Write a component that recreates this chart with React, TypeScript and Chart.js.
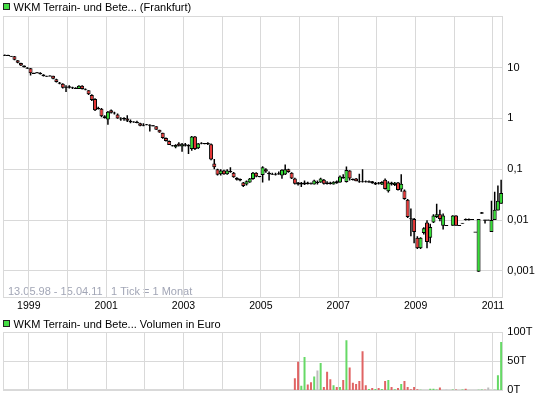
import React, { useEffect, useRef } from 'react';
import { Chart, registerables } from 'chart.js';

Chart.register(...registerables);

// Monthly candles, index 0 = May 1998 ... index 155 = April 2011
const OPEN: (number | null)[] = [
  17.5, 17.5, 17.5, 16.5, 16.8, 14, 12.3, 11,
  9.8, 9.7, 7.7, 8, 7.9, 7.3, 6.8, 6.8, 6.9, 5.9, 5.1, 4.8,
  4.0, 4.3, 4.0, 3.9, 3.8, 4.4, 3.8, 3.6, 2.9, 2.4, 1.6, 1.55,
  1.1, 0.95, 1.45, 1.3, 1.2, 0.95, 0.97, 1.0, 0.88, 0.85, 0.85, 0.8,
  0.72, 0.75, 0.75, 0.72, 0.7, 0.6, 0.52, 0.41, 0.36, 0.29, 0.27, 0.32,
  0.28, 0.31, 0.3, 0.25, 0.44, 0.26, 0.33, 0.32, 0.33, 0.31, 0.13, 0.1,
  0.08, 0.095, 0.08, 0.09, 0.085, 0.068, 0.06, 0.055, 0.05, 0.055, 0.064, 0.085,
  0.072, 0.077, 0.1, 0.085, 0.08, 0.078, 0.082, 0.075, 0.079, 0.1, 0.085, 0.066,
  0.055, 0.05, 0.05, 0.055, 0.053, 0.05, 0.055, 0.055, 0.062, 0.055, 0.055, 0.05,
  0.058, 0.055, 0.07, 0.056, 0.094, 0.064, 0.066, 0.058, 0.058, 0.058, 0.055, 0.058,
  0.05, 0.055, 0.05, 0.062, 0.037, 0.055, 0.049, 0.055, 0.04, 0.038, 0.025, 0.0108,
  0.0105, 0.0045, 0.0028, 0.0056, 0.009, 0.0045, 0.009, 0.0115, 0.013, 0.0077, 0.0078, null,
  0.0077, 0.0123, 0.0078, 0.0086, 0.0105, 0.0105, 0.0103, 0.0058, 0.00096, 0.0134, 0.0101, 0.01,
  0.0058, 0.01, 0.0155, 0.021,
];
const HIGH: (number | null)[] = [
  17.8, 18, 17.8, 17, 16.9, 14, 12.4, 11,
  10.2, 9.8, 7.9, 8.2, 8.1, 7.4, 6.9, 7.1, 6.9, 6.0, 5.2, 4.9,
  4.5, 4.5, 4.2, 4.1, 4.5, 4.5, 3.9, 3.6, 3.0, 2.5, 1.7, 1.6,
  1.15, 1.4, 1.5, 1.35, 1.25, 1.05, 1.05, 1.15, 0.95, 0.88, 0.9, 0.82,
  0.8, 0.78, 0.77, 0.74, 0.7, 0.6, 0.52, 0.42, 0.37, 0.3, 0.31, 0.34,
  0.33, 0.33, 0.31, 0.45, 0.45, 0.33, 0.34, 0.33, 0.34, 0.32, 0.16, 0.102,
  0.1, 0.098, 0.1, 0.11, 0.088, 0.07, 0.066, 0.056, 0.06, 0.067, 0.088, 0.087,
  0.074, 0.115, 0.105, 0.09, 0.085, 0.085, 0.09, 0.1, 0.124, 0.102, 0.087, 0.068,
  0.056, 0.056, 0.06, 0.057, 0.055, 0.062, 0.06, 0.068, 0.064, 0.058, 0.057, 0.058,
  0.06, 0.075, 0.08, 0.113, 0.096, 0.066, 0.067, 0.082, 0.1, 0.06, 0.06, 0.059,
  0.056, 0.056, 0.058, 0.066, 0.058, 0.057, 0.056, 0.056, 0.08, 0.04, 0.026, 0.017,
  0.011, 0.0048, 0.0046, 0.0072, 0.0099, 0.0085, 0.013, 0.021, 0.016, 0.0135, 0.0079, null,
  0.0125, 0.0125, 0.0078, 0.0088, 0.0107, 0.0107, 0.0103, 0.0058, 0.0105, 0.0145, 0.0101, 0.0101,
  0.024, 0.036, 0.048, 0.062,
];
const LOW: (number | null)[] = [
  17.2, 17, 17, 16.3, 14, 12.2, 10.7, 10,
  9.5, 7, 7.5, 7.7, 7.3, 6.7, 6.6, 6.7, 5.9, 5.1, 4.7, 3.9,
  3.3, 3.9, 3.8, 3.8, 3.8, 3.7, 3.6, 2.9, 2.2, 1.4, 1.5, 1.05,
  1.0, 0.75, 1.25, 1.2, 0.98, 0.9, 0.9, 0.85, 0.8, 0.82, 0.8, 0.7,
  0.7, 0.73, 0.55, 0.7, 0.6, 0.52, 0.4, 0.35, 0.3, 0.28, 0.26, 0.28,
  0.22, 0.28, 0.2, 0.23, 0.24, 0.25, 0.31, 0.31, 0.3, 0.15, 0.1, 0.075,
  0.075, 0.078, 0.078, 0.085, 0.068, 0.06, 0.058, 0.045, 0.048, 0.054, 0.062, 0.07,
  0.07, 0.055, 0.085, 0.06, 0.078, 0.075, 0.078, 0.065, 0.077, 0.085, 0.064, 0.05,
  0.048, 0.045, 0.049, 0.05, 0.05, 0.05, 0.05, 0.054, 0.05, 0.05, 0.05, 0.05,
  0.052, 0.054, 0.065, 0.055, 0.06, 0.06, 0.058, 0.054, 0.055, 0.055, 0.054, 0.052,
  0.049, 0.05, 0.049, 0.04, 0.035, 0.048, 0.047, 0.038, 0.036, 0.025, 0.011, 0.0048,
  0.0035, 0.0027, 0.0027, 0.0052, 0.0028, 0.0035, 0.0088, 0.011, 0.0095, 0.0065, 0.0077, null,
  0.0077, 0.0077, 0.0078, 0.0086, 0.0098, 0.0098, 0.0103, 0.0058, 0.00096, 0.0134, 0.0086, 0.0099,
  0.0058, 0.01, 0.0155, 0.021,
];
const CLOSE: (number | null)[] = [
  17.5, 17.5, 17.2, 16.9, 14.2, 12.4, 11, 10.2,
  9.7, 7.7, 7.7, 7.8, 7.4, 6.8, 6.7, 6.9, 6.0, 5.2, 4.8, 4.0,
  4.2, 4.0, 4.0, 3.9, 4.4, 3.8, 3.7, 3.0, 2.3, 1.45, 1.55, 1.1,
  1.02, 1.35, 1.3, 1.25, 1.0, 1.0, 1.02, 0.9, 0.85, 0.85, 0.82, 0.72,
  0.75, 0.75, 0.72, 0.71, 0.6, 0.53, 0.41, 0.36, 0.3, 0.29, 0.3, 0.29,
  0.31, 0.29, 0.28, 0.44, 0.25, 0.32, 0.32, 0.32, 0.31, 0.155, 0.11, 0.078,
  0.095, 0.08, 0.095, 0.09, 0.07, 0.062, 0.064, 0.047, 0.058, 0.066, 0.085, 0.072,
  0.072, 0.11, 0.09, 0.08, 0.08, 0.082, 0.08, 0.098, 0.1, 0.088, 0.066, 0.052,
  0.05, 0.054, 0.055, 0.051, 0.051, 0.06, 0.055, 0.066, 0.052, 0.051, 0.051, 0.057,
  0.053, 0.072, 0.067, 0.097, 0.066, 0.062, 0.058, 0.056, 0.056, 0.056, 0.058, 0.053,
  0.054, 0.052, 0.056, 0.041, 0.055, 0.05, 0.054, 0.039, 0.052, 0.026, 0.0115, 0.0104,
  0.0058, 0.0028, 0.0045, 0.0069, 0.0037, 0.0073, 0.0123, 0.013, 0.0105, 0.0123, 0.0078, null,
  0.0123, 0.0077, 0.0078, 0.0087, 0.0099, 0.0099, 0.0103, 0.0058, 0.0105, 0.0142, 0.0099, 0.01,
  0.01, 0.016, 0.024, 0.034,
];

// Monthly volume in euros, starting at month index 91 (Dec 2005)
const VOLUME_START = 91;
const VOLUME: (number | null)[] = [
  21000, 49000, 8000, 57000, 10000, 14000, 24000, 34000, 47000, 6000,
  32000, 19000, 9000, 6000, 6000, 18000, 86000, 39000, 13000, 11000,
  16000, 67000, 9000, 2500, 4000, 2500, 4000, 2500, 16000, 18000,
  6000, 2000, 4000, 11000, 16000, 6000, 2000, 6000, 2000, 1000,
  null, null, 3000, 3000, 1500, 5000, null, 1000, null, 1500,
  1500, null, 1500, 3000, null, null, null, 1000, 1500, 1000,
  5000, null, 1000, 26000, 83000,
];

const YEAR_TICKS = [1999, 2000, 2001, 2002, 2003, 2004, 2005, 2006, 2007, 2008, 2009, 2010, 2011];
const PRICE_TICKS = [0.001, 0.01, 0.1, 1, 10];
const PRICE_TICK_LABELS = ['0,001', '0,01', '0,1', '1', '10'];
const VOLUME_TICKS = [0, 50000, 100000];
const VOLUME_TICK_LABELS = ['0T', '50T', '100T'];

const FONT = '"Liberation Sans", Arial, Helvetica, sans-serif';
const GRID = '#d9d9d9';
const RED = '#e83636';
const GREEN = '#33e033';
const VOL_RED = '#e06464';
const VOL_GREEN = '#66d966';
const VOL_GRAY = '#bdbdbd';

// month index of the candle drawn just right of the January gridline
const yearPos = (y: number) => (y - 1998) * 12 - 4 + 0.45;
const X_MIN = 0.445;
const X_MAX = 155.67;

const W = 545;
const MAIN_H = 312;
const VOL_H = 89;

const framePlugin = {
  id: 'frame',
  beforeDatasetsDraw(chart: any) {
    const { ctx, chartArea: a } = chart;
    ctx.save();
    ctx.strokeStyle = GRID;
    ctx.lineWidth = 1;
    const l = Math.round(a.left), t = Math.round(a.top), r = Math.round(a.right), b = Math.round(a.bottom);
    ctx.strokeRect(l + 0.5, t + 0.5, r - l - 1, b - t - 1);
    ctx.restore();
  },
};

const rangeTextPlugin = {
  id: 'rangeText',
  beforeDraw(chart: any) {
    const { ctx } = chart;
    ctx.save();
    ctx.font = `11px ${FONT}`;
    ctx.fillStyle = '#a2a6b6';
    ctx.textBaseline = 'middle';
    ctx.textAlign = 'left';
    ctx.fillText('13.05.98 - 15.04.11', 8, 291.5);
    ctx.fillText('1 Tick = 1 Monat', 111, 291.5);
    ctx.restore();
  },
};

function xScale(showLabels: boolean, height: number) {
  return {
    type: 'linear',
    min: X_MIN,
    max: X_MAX,
    offset: false,
    grid: { offset: false, color: GRID, lineWidth: 1, drawTicks: false },
    border: { display: false },
    afterBuildTicks: (s: any) => {
      s.ticks = YEAR_TICKS.map((y) => ({ value: yearPos(y) }));
    },
    afterFit: (s: any) => {
      s.height = height;
    },
    ticks: {
      display: showLabels,
      autoSkip: false,
      maxRotation: 0,
      minRotation: 0,
      padding: 2,
      color: '#000',
      font: { family: FONT, size: 10.5 },
      callback: (_v: any, i: number) => {
        const y = YEAR_TICKS[i];
        return y % 2 === 1 ? String(y) : '';
      },
    },
  };
}

export default function App() {
  const mainRef = useRef<HTMLCanvasElement>(null);
  const volRef = useRef<HTMLCanvasElement>(null);

  useEffect(() => {
    const bodies: any[] = [];
    const bodyColors: string[] = [];
    const wicks: any[] = [];
    const dirByMonth: Record<number, number> = {};
    for (let i = 0; i < OPEN.length; i++) {
      const o = OPEN[i], h = HIGH[i], l = LOW[i], c = CLOSE[i];
      if (o == null || h == null || l == null || c == null) continue;
      let lo = Math.min(o, c);
      let hi = Math.max(o, c);
      if (hi / lo < 1.05) {
        const mid = Math.sqrt(hi * lo);
        lo = mid / 1.025;
        hi = mid * 1.025;
      }
      const dir = c > o ? 1 : c < o ? -1 : 0;
      dirByMonth[i] = dir;
      bodies.push({ x: i, y: [lo, hi] });
      bodyColors.push(dir > 0 ? GREEN : dir < 0 ? RED : '#000');
      wicks.push({ x: i, y: [l, h] });
    }

    const main = new Chart(mainRef.current as HTMLCanvasElement, {
      type: 'bar',
      data: {
        datasets: [
          {
            data: bodies,
            backgroundColor: bodyColors,
            borderColor: '#000',
            borderWidth: 1,
            borderSkipped: false,
            barThickness: 4,
            grouped: false,
            inflateAmount: 0,
          } as any,
          {
            data: wicks,
            backgroundColor: '#000',
            borderWidth: 0,
            barThickness: 1.5,
            grouped: false,
            inflateAmount: 0,
          } as any,
        ],
      },
      options: {
        responsive: false,
        animation: false,
        events: [],
        layout: { padding: { left: 3, top: 16, right: 0, bottom: 0 } },
        plugins: { legend: { display: false }, tooltip: { enabled: false } },
        scales: {
          x: xScale(true, MAIN_H - 297.5) as any,
          y: {
            type: 'logarithmic',
            position: 'right',
            min: Math.pow(10, -3.51),
            max: Math.pow(10, 2.015),
            grid: { color: GRID, lineWidth: 1, drawTicks: false },
            border: { display: false },
            afterBuildTicks: (s: any) => {
              s.ticks = PRICE_TICKS.map((v) => ({ value: v }));
            },
            afterFit: (s: any) => {
              s.width = W - 503.3;
            },
            ticks: {
              padding: 4,
              color: '#000',
              font: { family: FONT, size: 11 },
              callback: (_v: any, i: number) => PRICE_TICK_LABELS[i],
            },
          } as any,
        },
      },
      plugins: [framePlugin, rangeTextPlugin],
    });

    const vols: any[] = [];
    const volColors: string[] = [];
    VOLUME.forEach((v, k) => {
      if (v == null) return;
      const i = VOLUME_START + k;
      vols.push({ x: i, y: v });
      const d = dirByMonth[i] ?? 0;
      volColors.push(d > 0 ? VOL_GREEN : d < 0 ? VOL_RED : VOL_GRAY);
    });

    const vol = new Chart(volRef.current as HTMLCanvasElement, {
      type: 'bar',
      data: {
        datasets: [
          {
            data: vols,
            backgroundColor: volColors,
            borderWidth: 0,
            barThickness: 2,
            inflateAmount: 0,
          } as any,
        ],
      },
      options: {
        responsive: false,
        animation: false,
        events: [],
        layout: { padding: { left: 3, top: 20, right: 0, bottom: 0 } },
        plugins: { legend: { display: false }, tooltip: { enabled: false } },
        scales: {
          x: xScale(false, VOL_H - 79.5) as any,
          y: {
            type: 'linear',
            position: 'right',
            min: 0,
            max: 100000,
            grid: { color: GRID, lineWidth: 1, drawTicks: false },
            border: { display: false },
            afterBuildTicks: (s: any) => {
              s.ticks = VOLUME_TICKS.map((v) => ({ value: v }));
            },
            afterFit: (s: any) => {
              s.width = W - 503.3;
            },
            ticks: {
              padding: 4,
              color: '#000',
              font: { family: FONT, size: 11 },
              callback: (_v: any, i: number) => VOLUME_TICK_LABELS[i],
            },
          } as any,
        },
      },
      plugins: [framePlugin],
    });

    return () => {
      main.destroy();
      vol.destroy();
    };
  }, []);

  const box: React.CSSProperties = {
    position: 'absolute',
    left: 3,
    width: 7,
    height: 7,
    boxSizing: 'border-box',
    border: '1px solid #222',
    background: '#44dd44',
  };
  const label: React.CSSProperties = {
    position: 'absolute',
    left: 13.5,
    fontSize: 11,
    lineHeight: '12px',
    fontFamily: FONT,
    color: '#000',
    whiteSpace: 'nowrap',
  };

  return (
    <div style={{ position: 'absolute', left: 0, top: 0, width: W, height: 401, background: '#fff', overflow: 'hidden' }}>
      <canvas ref={mainRef} width={W} height={MAIN_H} style={{ position: 'absolute', left: 0, top: 0, width: W, height: MAIN_H }} />
      <canvas ref={volRef} width={W} height={VOL_H} style={{ position: 'absolute', left: 0, top: MAIN_H, width: W, height: VOL_H }} />
      <div style={{ ...box, top: 3 }} />
      <div style={{ ...label, top: 1 }}>WKM Terrain- und Bete... (Frankfurt)</div>
      <div style={{ ...box, top: 320 }} />
      <div style={{ ...label, top: 317.5 }}>WKM Terrain- und Bete... Volumen in Euro</div>
    </div>
  );
}
